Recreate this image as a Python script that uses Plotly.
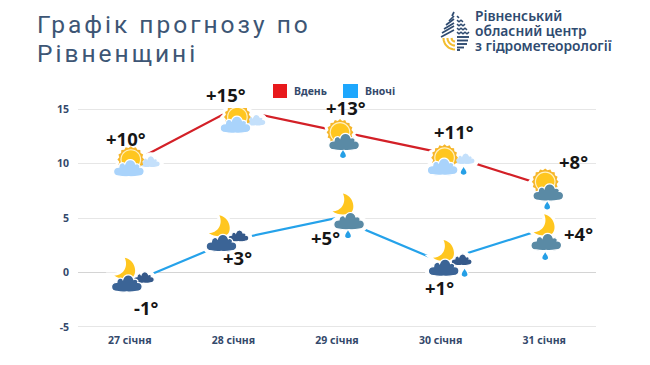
import math
import plotly.graph_objects as go

days = ["27 січня", "28 січня", "29 січня", "30 січня", "31 січня"]
day_temps = [10, 15, 13, 11, 8]
night_temps = [-1, 3, 5, 1, 4]
day_labels = ["+10°", "+15°", "+13°", "+11°", "+8°"]
night_labels = ["-1°", "+3°", "+5°", "+1°", "+4°"]
y_ticks = [-5, 0, 5, 10, 15]
title_lines = ["Графік прогнозу по", "Рівненщині"]
org_lines = ["Рівненський", "обласний центр", "з гідрометеорології"]

# layout constants (pixels)
W, H = 650, 365
L, R, T, B = 78, 596, 108, 328
NAVY = "#2f4b70"
TXT = "#34496b"
LIGHT, LIGHT2 = "#a9d3fb", "#c4e0fb"
DARK, DARK2 = "#3b6496", "#35598a"
TEAL = "#5a8aa5"
DROP = "#259fe6"
GOLD, GOLD2 = "#f6b62a", "#ffc61f"

halos = []
shapes = []


def scaled_path(cmds, cx, cy, s=1.0):
    out = []
    for c in cmds:
        if isinstance(c, str):
            out.append(c)
        else:
            out.append(f"{cx + c[0] * s:.2f},{-(cy + c[1] * s):.2f}")
    return " ".join(out)


CLOUD = ["M", (-10, 8), "C", (-17, 8), (-17, -1), (-10, -1), "C", (-10, -6), (-5, -6), (-4, -4),
         "C", (-2, -10), (5, -10), (7, -4), "C", (9, -5), (12, -3), (11, -1), "C", (17, -1), (17, 8), (10, 8),
         "C", (5, 9), (2, 9), (0, 8.5), "C", (-3, 9), (-6, 9), (-10, 8), "Z"]
MOON = ["M", (-1, -12), "C", (9, -10), (11, 2), (7, 6), "C", (3, 9), (-6, 9), (-11, 5),
        "C", (-3, 5), (3, -3), (-1, -12), "Z"]
DROPLET = ["M", (0, -5), "C", (1, -3), (3, -1), (3, 1), "C", (3, 4), (-3, 4), (-3, 1), "C", (-3, -1), (-1, -3), (0, -5), "Z"]


def add(path, ax, ay, fill, edge=0.0, halo=0.0):
    base = dict(type="path", xref="x", yref="y", xsizemode="pixel", ysizemode="pixel",
                xanchor=ax, yanchor=ay, path=path, layer="above")
    if halo:
        halos.append(dict(base, fillcolor="white", line=dict(color="white", width=halo)))
    shapes.append(dict(base, fillcolor=fill, line=dict(color="white", width=edge)))


def circle(cx, cy, r):
    k = 0.5523 * r
    return ["M", (cx - r, cy), "C", (cx - r, cy - k), (cx - k, cy - r), (cx, cy - r),
            "C", (cx + k, cy - r), (cx + r, cy - k), (cx + r, cy),
            "C", (cx + r, cy + k), (cx + k, cy + r), (cx, cy + r),
            "C", (cx - k, cy + r), (cx - r, cy + k), (cx - r, cy), "Z"]


def sun(ax, ay, ox, oy):
    pts = []
    n = 16
    for i in range(n * 2):
        r = 13.4 if i % 2 == 0 else 11.7
        a = math.pi * i / n
        pts.append((r * math.cos(a), r * math.sin(a)))
    cmds = ["M", pts[0]] + sum([["L", p] for p in pts[1:]], []) + ["Z"]
    add(scaled_path(cmds, ox, oy), ax, ay, GOLD, halo=6)
    add(scaled_path(circle(0, 0, 10.4), ox, oy), ax, ay, "#fff2c4")
    add(scaled_path(circle(0, 0, 9.2), ox, oy), ax, ay, GOLD2)


def moon(ax, ay, ox, oy):
    add(scaled_path(MOON, ox, oy, 1.05), ax, ay, GOLD2, halo=6)


def cloud(ax, ay, ox, oy, color, s=1.0):
    add(scaled_path(CLOUD, ox, oy, s), ax, ay, color, edge=1.2, halo=7)


def drop(ax, ay, ox, oy):
    add(scaled_path(DROPLET, ox, oy, 0.95), ax, ay, DROP, halo=3)


# icon layout: offsets from each data point, in pixels (x right, y down)
def day_icon(i):
    y = day_temps[i]
    if i == 0:
        cloud(i, y, 20, -2, LIGHT2, 0.68); sun(i, y, 1, -4); cloud(i, y, -1, 4.5, LIGHT)
    elif i == 1:
        cloud(i, y, 22, 11, LIGHT2, 0.68); sun(i, y, 4, 8); cloud(i, y, 2, 15.5, LIGHT)
    elif i == 2:
        sun(i, y, 3, 1.5); cloud(i, y, 7, 11, TEAL); drop(i, y, 6, 24)
    elif i == 3:
        cloud(i, y, 24, 6, LIGHT2, 0.68); sun(i, y, 4, 5); cloud(i, y, 2, 14, LIGHT); drop(i, y, 23, 19)
    else:
        sun(i, y, 1, -3.5); cloud(i, y, 4, 7, TEAL); drop(i, y, 3, 21)


def night_icon(i):
    y = night_temps[i]
    if i == 0:
        moon(i, y, -4, -13); cloud(i, y, 14, -6, DARK2, 0.68); cloud(i, y, -3, 0, DARK)
    elif i == 1:
        moon(i, y, -13, -12); cloud(i, y, 5, -4, DARK2, 0.68); cloud(i, y, -12, 3, DARK)
    elif i == 2:
        moon(i, y, 7, -12); cloud(i, y, 12, 3, TEAL); drop(i, y, 11, 17)
    elif i == 3:
        moon(i, y, 4, -9); cloud(i, y, 21, -2, DARK2, 0.68); cloud(i, y, 3, 6, DARK); drop(i, y, 24, 12)
    else:
        moon(i, y, 1, -2); cloud(i, y, 2, 13, TEAL); drop(i, y, 1, 28)


for i in range(len(days)):
    day_icon(i)
    night_icon(i)


def px(x):
    return (x - L) / (R - L)


def py(y):
    return (B - y) / (B - T)


logo = []


def rect(x0, y0, x1, y1, color):
    logo.append(dict(type="rect", xref="paper", yref="paper", x0=px(x0), x1=px(x1), y0=py(y0), y1=py(y1),
                     fillcolor=color, line=dict(width=0), layer="above"))


rect(273, 84, 287, 98, "#e8191c")
rect(343, 84, 358, 98, "#1ea7fd")


def pline(pts, color, width):
    path = "M " + " L ".join(f"{a - L:.1f},{-(b - T):.1f}" for a, b in pts)
    logo.append(dict(type="path", xref="paper", yref="paper", xsizemode="pixel", ysizemode="pixel",
                     xanchor=0, yanchor=1, path=path, line=dict(color=color, width=width), layer="above"))


for x0, y0, x1, y1 in [(452, 16, 454, 12), (449, 21, 454, 16), (446, 25, 454, 19), (444, 29, 454, 23),
                       (442, 33, 454, 26), (441, 37, 454, 30)]:
    pline([(x0, y0), (x1, y1)], NAVY, 1.7)
for yy, xe in [(17, 460), (21, 463), (25, 466), (29, 468), (33, 469)]:
    pts = [(457 + j * 2, yy + (0.8 if j % 2 else -0.8)) for j in range((xe - 457) // 2 + 1)]
    pline(pts, NAVY, 1.6)
for yy, xe in [(37, 469), (40.5, 468), (44, 467), (47.5, 464), (50, 460)]:
    pline([(457, yy), (xe, yy)], NAVY, 1.9)
for r in [3.5, 7.5, 11.5]:
    pts = [(455 - r * math.cos(t / 8 * math.pi / 2), 38 + r * math.sin(t / 8 * math.pi / 2)) for t in range(9)]
    pline(pts, "#f2bd30", 2.1)

fig = go.Figure()
fig.add_trace(go.Scatter(x=days, y=day_temps, name="Вдень", mode="lines",
                         line=dict(color="#d32027", width=2.2), showlegend=False))
fig.add_trace(go.Scatter(x=days, y=night_temps, name="Вночі", mode="lines",
                         line=dict(color="#25a2ea", width=2.2), showlegend=False))

annots = []
VAL_FONT = dict(family="Noto Sans", size=18.5, color="#161616", weight=700)
day_off = [(-4, -25), (-7, -15), (9, -23), (13, -21), (29, -24)]
night_off = [(17, 24), (4, 18), (-12, 19), (-1, 26), (34, 5)]
for i in range(len(days)):
    annots.append(dict(x=i, y=day_temps[i], xref="x", yref="y", text=day_labels[i], showarrow=False,
                       xshift=day_off[i][0], yshift=-day_off[i][1], font=VAL_FONT))
    annots.append(dict(x=i, y=night_temps[i], xref="x", yref="y", text=night_labels[i], showarrow=False,
                       xshift=night_off[i][0], yshift=-night_off[i][1], font=VAL_FONT))

for line, yc in zip(title_lines, [24, 53.5]):
    annots.append(dict(xref="paper", yref="paper", x=px(35), y=py(yc), xanchor="left", yanchor="middle", align="left",
                       text=line, showarrow=False, font=dict(family="Roboto", size=24.5, color="#3d5675")))
annots.append(dict(xref="paper", yref="paper", x=px(472.5), y=py(4), xanchor="left", yanchor="top", align="left",
                   text="<br>".join(org_lines), showarrow=False,
                   font=dict(family="Noto Sans", size=13.8, color=NAVY, weight=600)))
annots.append(dict(xref="paper", yref="paper", x=px(292), y=py(91), xanchor="left", yanchor="middle",
                   text="Вдень", showarrow=False, font=dict(family="Noto Sans", size=10.5, color=TXT, weight=700)))
annots.append(dict(xref="paper", yref="paper", x=px(363), y=py(91), xanchor="left", yanchor="middle",
                   text="Вночі", showarrow=False, font=dict(family="Noto Sans", size=10.5, color=TXT, weight=700)))

fig.update_layout(
    width=W, height=H, autosize=False,
    margin=dict(l=L, r=W - R, t=T, b=H - B),
    paper_bgcolor="white", plot_bgcolor="white",
    showlegend=False, shapes=halos + shapes + logo, annotations=annots,
    xaxis=dict(type="category", categoryorder="array", categoryarray=days, range=[-0.5, 4.5],
               showgrid=False, zeroline=False, showline=False, ticks="", ticklabelstandoff=4,
               tickfont=dict(family="Noto Sans", size=10.5, color=TXT, weight=700)),
    yaxis=dict(range=[-5.1, 15.1], tickmode="array", tickvals=y_ticks, ticktext=[str(v) for v in y_ticks],
               gridcolor="#e6e6e6", gridwidth=1, zeroline=True, zerolinecolor="#d4d4d4", zerolinewidth=1,
               ticks="", ticklabelstandoff=8, showline=False,
               tickfont=dict(family="Noto Sans", size=10.5, color=TXT, weight=700)),
)

post = """
document.body.style.margin = '0';
document.querySelectorAll('text.annotation-text').forEach(function(t){
  var s = t.textContent;
  if (s.indexOf('Графік') === 0 || s.indexOf('Рівненщині') === 0) {
    t.style.letterSpacing = '3px';
  }
  if (s.indexOf('Рівненський') === 0) {
    t.querySelectorAll('tspan.line').forEach(function(l, i){ l.setAttribute('dy', (i * 14.9) + 'px'); });
  }
});
"""
fig.write_html("out.html", post_script=post, config={"displayModeBar": False})
